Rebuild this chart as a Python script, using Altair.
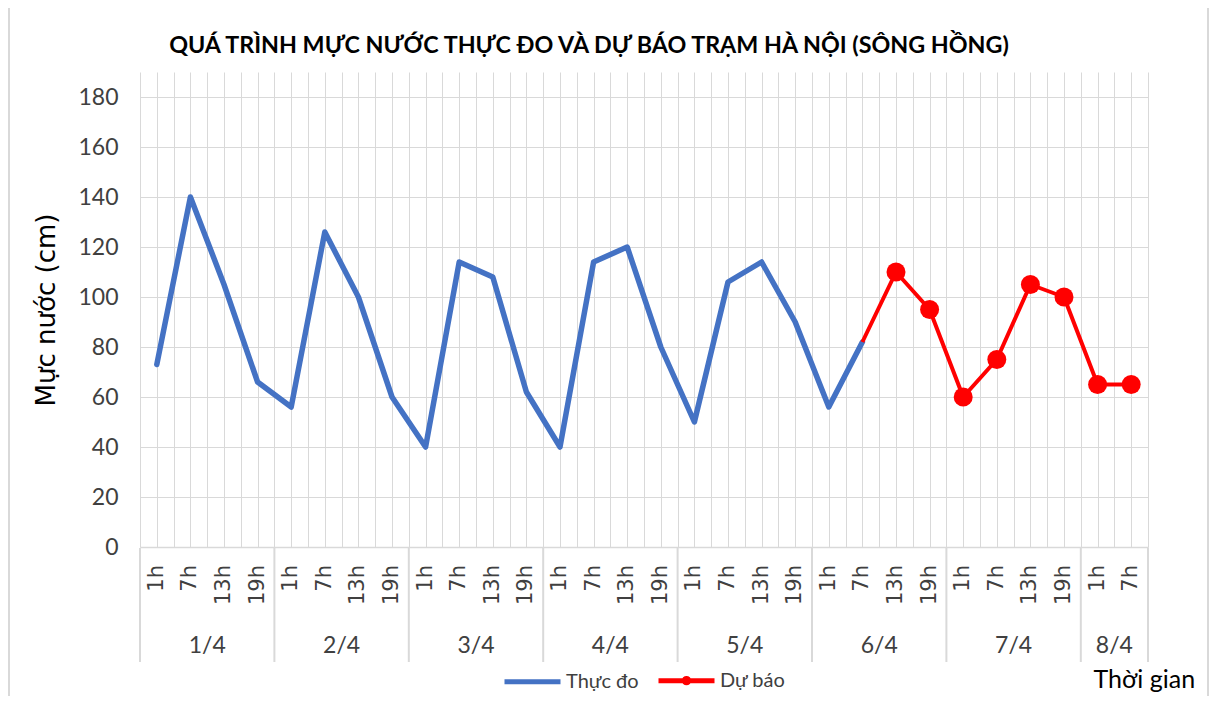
import altair as alt
import pandas as pd

# ---- data ----
title_text = ["QUÁ TRÌNH MỰC NƯỚC THỰC ĐO VÀ DỰ BÁO TRẠM HÀ NỘI (SÔNG HỒNG)"]
days = ["1/4", "2/4", "3/4", "4/4", "5/4", "6/4", "7/4", "8/4"]
hours_per_day = [
    ["1h", "7h", "13h", "19h"],
    ["1h", "7h", "13h", "19h"],
    ["1h", "7h", "13h", "19h"],
    ["1h", "7h", "13h", "19h"],
    ["1h", "7h", "13h", "19h"],
    ["1h", "7h", "13h", "19h"],
    ["1h", "7h", "13h", "19h"],
    ["1h", "7h"],
]
# Thực đo: 1/4 1h ... 6/4 7h
observed = [73, 140, 105, 66,
            56, 126, 100, 60,
            40, 114, 108, 62,
            40, 114, 120, 80,
            50, 106, 114, 90,
            56, 82]
# Dự báo: 6/4 13h ... 8/4 7h
forecast = [110, 95,
            60, 75, 105, 100,
            65, 65]
series_names = ["Thực đo", "Dự báo"]
series_colors = ["#4472C4", "#FF0000"]
y_ticks = [0, 20, 40, 60, 80, 100, 120, 140, 160, 180]

# ---- build tables ----
slots = []
for d, hrs in zip(days, hours_per_day):
    for h in hrs:
        slots.append((d, h))
n = len(slots)
slot_df = pd.DataFrame({"i": range(n), "day": [s[0] for s in slots], "hour": [s[1] for s in slots]})

obs_df = pd.DataFrame({"i": range(len(observed)), "v": observed, "series": series_names[0]})
f_start = len(observed)
fc_line_df = pd.DataFrame({
    "i": [f_start - 1] + list(range(f_start, f_start + len(forecast))),
    "v": [observed[-1]] + forecast,
    "series": series_names[1],
})
fc_pts_df = pd.DataFrame({"i": range(f_start, f_start + len(forecast)), "v": forecast, "series": series_names[1]})

day_rows = []
bounds = [-0.5]
pos = 0
for d, hrs in zip(days, hours_per_day):
    day_rows.append({"day": d, "c": pos + (len(hrs) - 1) / 2})
    pos += len(hrs)
    bounds.append(pos - 0.5)
day_df = pd.DataFrame(day_rows)
bound_df = pd.DataFrame({"b": bounds})
title_df = pd.DataFrame({"t": title_text})

W, H = 1008, 475
NARROW = "Lato, Liberation Sans, sans-serif"
WIDE = "DejaVu Sans, sans-serif"
GRID = "#d9d9d9"

xscale = alt.Scale(domain=[-0.5, n - 0.5], nice=False, zero=False)
yscale = alt.Scale(domain=[0, 190], nice=False)

legend_path_line = "M-1,0L1,0"
legend_path_marker = "M-1,0L1,0M0.08,0A0.08,0.08,0,1,1,-0.08,0A0.08,0.08,0,1,1,0.08,0Z"

legend_spec = alt.Legend(
    orient="none", legendX=362, legendY=578, direction="horizontal", title=None,
    symbolSize=3136, symbolStrokeWidth=5, labelFont=NARROW, labelFontSize=20,
    labelColor="#404040", labelOffset=3, columnPadding=9, symbolOpacity=1,
)
color_enc = alt.Color(
    "series:N",
    scale=alt.Scale(domain=series_names, range=series_colors),
    legend=legend_spec,
)
shape_enc = alt.Shape(
    "series:N",
    scale=alt.Scale(domain=series_names, range=[legend_path_line, legend_path_marker]),
    legend=legend_spec,
)

x_axis = alt.Axis(
    values=[b / 2 for b in range(-1, 2 * n)], grid=True, gridColor=GRID, gridWidth=1,
    labels=False, ticks=False, domain=True, domainColor=GRID, domainWidth=1.5,
    title="Thời gian", titleX=953, titleY=140, titleAlign="left", titleBaseline="alphabetic",
    titleFont=NARROW, titleFontSize=25, titleFontWeight="normal", titleColor="black",
)
y_axis = alt.Axis(
    values=y_ticks, grid=True, gridColor=GRID, gridWidth=1, ticks=False, domain=False,
    labelFont=NARROW, labelFontSize=23, labelColor="#404040", labelPadding=22,
    title="Mực nước (cm)", titleFont=WIDE, titleFontSize=26, titleFontWeight="normal",
    titleColor="black", titlePadding=18,
)

X = alt.X("i:Q", scale=xscale, axis=x_axis)
Y = alt.Y("v:Q", scale=yscale, axis=y_axis)

blue = alt.Chart(obs_df).mark_line(strokeWidth=5.5, strokeCap="round", strokeJoin="round").encode(
    x=X, y=Y, color=color_enc,
)
red = alt.Chart(fc_line_df).mark_line(strokeWidth=4, strokeJoin="round").encode(
    x=X, y=Y, color=color_enc,
)
pts = alt.Chart(fc_pts_df).mark_circle(size=360, opacity=1).encode(
    x=X, y=Y, color=color_enc,
)
# empty layer that only supplies the legend symbols (line / line + marker)
legend_layer = alt.Chart(fc_pts_df).transform_filter("false").mark_point(
    filled=False, strokeWidth=5, opacity=1
).encode(
    x=X, y=Y, color=color_enc, shape=shape_enc,
)
hour_txt = alt.Chart(slot_df).mark_text(
    angle=270, align="right", baseline="middle", font=WIDE, fontSize=21, color="#404040"
).encode(
    x=X, y=alt.value(H + 18), text="hour:N",
)
day_txt = alt.Chart(day_df).mark_text(
    baseline="middle", font=NARROW, fontSize=23, color="#404040"
).encode(
    x=alt.X("c:Q", scale=xscale, axis=x_axis),
    y=alt.value(H + 99),
    text="day:N",
)
seps = alt.Chart(bound_df).mark_rule(color=GRID, strokeWidth=2).encode(
    x=alt.X("b:Q", scale=xscale, axis=x_axis),
    y=alt.value(H + 1),
    y2=alt.value(H + 115),
)
frame = alt.Chart(bound_df.head(1)).mark_rect(fill="transparent", stroke=GRID, strokeWidth=2).encode(
    x=alt.value(-131), x2=alt.value(1068), y=alt.value(-65), y2=alt.value(H + 200),
)
title = alt.Chart(title_df).mark_text(
    font=NARROW, fontSize=23.3, fontWeight="bold", color="black", align="center", baseline="alphabetic"
).encode(
    x=alt.value(449), y=alt.value(-19), text="t:N",
)

chart = alt.layer(blue, red, pts, legend_layer, seps, hour_txt, day_txt, frame, title).properties(
    width=W, height=H,
    background="white",
    autosize=alt.AutoSizeParams(type="none"),
    padding={"left": 132, "top": 64, "right": 61, "bottom": 149},
).configure_view(strokeWidth=0)

chart.save("out.html", embed_options={"renderer": "svg", "actions": False})
